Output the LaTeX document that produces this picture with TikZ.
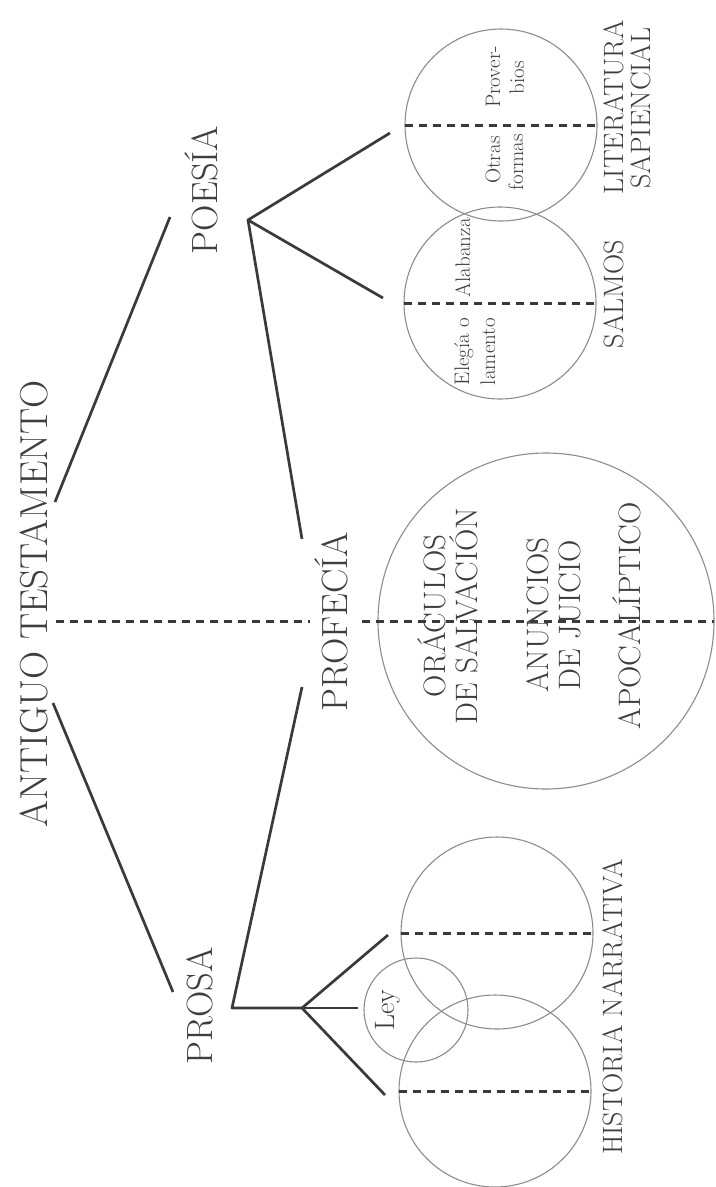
\documentclass[tikz,border=0pt]{standalone}
\usepackage{fontspec}
\definecolor{ink}{HTML}{3A3A3A}
\definecolor{ringgray}{HTML}{8C8C8C}
\definecolor{txtgray}{HTML}{3E3E3E}
\begin{document}
\begin{tikzpicture}[x=1bp,y=-1bp,
  lblbase/.style={rotate=90, inner sep=0pt, outer sep=0pt, text=txtgray, anchor=base},
  ttl/.style={lblbase, font=\fontsize{39bp}{39bp}\selectfont},
  cat/.style={lblbase, font=\fontsize{36.5bp}{36bp}\selectfont},
  sub/.style={lblbase, font=\fontsize{28bp}{28bp}\selectfont},
  inner/.style={lblbase, font=\fontsize{31bp}{31bp}\selectfont},
  tiny/.style={lblbase, font=\fontsize{21bp}{21bp}\selectfont},
  ringc/.style={circle, draw=ringgray, line width=1.1bp, inner sep=0pt, outer sep=0pt},
  conn/.style={draw=ink, line width=2.7bp, line join=round},
  dashln/.style={draw=ink, line width=3bp, dash pattern=on 8bp off 6bp}]
\useasboundingbox (0,0) rectangle (716,1187);

% circles
\node[ringc, minimum size=192bp] (cLit) at (501,125) {};
\node[ringc, minimum size=192bp] (cSal) at (500,303) {};
\node[ringc, minimum size=336bp] (cBig) at (546,621) {};
\node[ringc, minimum size=192bp] (cHa) at (497,933) {};
\node[ringc, minimum size=192bp] (cHb) at (495,1091) {};
\node[ringc, minimum size=104bp] (cLey) at (416,1010) {};

% main labels
\node[ttl] (at) at (47,604) {ANTIGUO TESTAMENTO};
\node[cat] (poesia) at (217,190) {POESÍA};
\node[cat] (profecia) at (347,622) {PROFECÍA};
\node[cat] (prosa) at (212,1006) {PROSA};

% sub labels
\node[sub] (salmos) at (623,294) {SALMOS};
\node[sub] (lit1) at (623,107) {LITERATURA};
\node[sub] (lit2) at (650,108) {SAPIENCIAL};
\node[sub] (hist) at (622,1007) {HISTORIA NARRATIVA};
\node[sub] (ley) at (394,1010) {Ley};

% texts inside the big circle
\node[inner] (ora1) at (445,616) {ORÁCULOS};
\node[inner] (ora2) at (477,616) {DE SALVACIÓN};
\node[inner] (anu1) at (548,615) {ANUNCIOS};
\node[inner] (anu2) at (580,615) {DE JUICIO};
\node[inner] (apo) at (640,616) {APOCALÍPTICO};

% texts inside small circles
\node[tiny, anchor=base west] (ele1) at (469,385) {Elegía o};
\node[tiny, anchor=base west] (ele2) at (495,385) {lamento};
\node[tiny, anchor=base west] (alab) at (470,297) {Alabanza};
\node[tiny] (otr1) at (500,160) {Otras};
\node[tiny] (otr2) at (523,162) {formas};
\node[tiny] (prv1) at (500,77) {Prover-};
\node[tiny] (prv2) at (524,78) {bios};

% connector end points
\coordinate (atP) at (55,502);
\coordinate (atQ) at (53,703);
\coordinate (poIn) at (170,217);
\coordinate (poV) at (248,220);
\coordinate (litIn) at (390,133);
\coordinate (salIn) at (383,298);
\coordinate (prfU) at (302,539);
\coordinate (prfL) at (302,687);
\coordinate (psIn) at (173,992);
\coordinate (psV) at (232,1008);
\coordinate (fork) at (302,1008);
\coordinate (haIn) at (388,935);
\coordinate (hbIn) at (385,1095);
\coordinate (leyIn) at (358,1008);

% connectors
\draw[conn] (atP) -- (poIn);
\draw[conn] (atQ) -- (psIn);
\draw[conn] (litIn) -- (poV) -- (salIn);
\draw[conn] (poV) -- (prfU);
\draw[conn] (prfL) -- (psV) -- (fork);
\draw[conn] (haIn) -- (fork) -- (hbIn);
\draw[conn] (fork) -- (leyIn);

% dashed divisions
\coordinate (dA) at (56,621);
\coordinate (dB) at (310,621);
\coordinate (dC) at (362,621);
\draw[dashln] (dA) -- (dB);
\draw[dashln] (dC) -- (cBig.east);
\draw[dashln] (cLit.west) -- (cLit.east);
\draw[dashln] (cSal.west) -- (cSal.east);
\draw[dashln] (cHa.west) -- (cHa.east);
\draw[dashln] (cHb.west) -- (cHb.east);
\end{tikzpicture}
\end{document}
